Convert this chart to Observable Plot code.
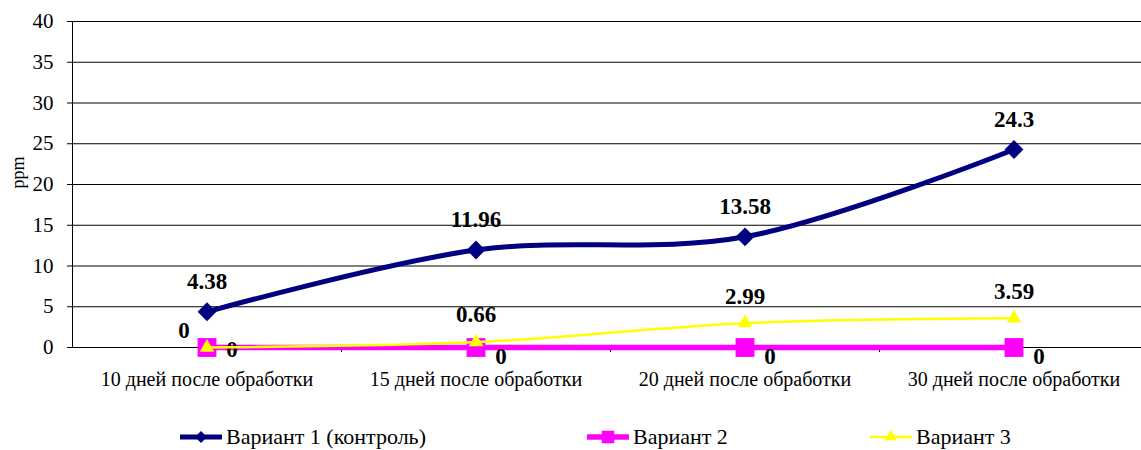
<!DOCTYPE html>
<html>
<head>
<meta charset="utf-8">
<script src="https://cdn.jsdelivr.net/npm/d3@7"></script>
<script src="https://cdn.jsdelivr.net/npm/@observablehq/plot@0.6"></script>
<style>
  body { margin: 0; background: white; font-family: "Liberation Serif", "Times New Roman", serif; }
  #legend { height: 45px; position: relative; }
  .item { position: absolute; top: 20px; display: flex; align-items: center; font-size: 22px; line-height: 24px; color: #000; }
  .item svg { margin-right: 2px; }
</style>
</head>
<body>
<div id="chart"></div>
<div id="legend"></div>
<script>
const categories = ["10 дней после обработки", "15 дней после обработки", "20 дней после обработки", "30 дней после обработки"];
const seriesNames = ["Вариант 1 (контроль)", "Вариант 2", "Вариант 3"];
const variant1 = [4.38, 11.96, 13.58, 24.3];
const variant2 = [0, 0, 0, 0];
const variant3 = [0, 0.66, 2.99, 3.59];
const yTicks = [0, 5, 10, 15, 20, 25, 30, 35, 40];
const separators = [0.5, 1.5, 2.5];

const rows = (vals, s) => vals.map((v, i) => ({i, v, s, cat: categories[i]}));
const d1 = rows(variant1, seriesNames[0]);
const d2 = rows(variant2, seriesNames[1]);
const d3r = rows(variant3, seriesNames[2]);

const font = "'Liberation Serif', 'Times New Roman', serif";

const chart = Plot.plot({
  width: 1141,
  height: 405,
  marginLeft: 72,
  marginRight: 0,
  marginTop: 21,
  marginBottom: 58,
  style: {fontFamily: font, fontSize: "20px", color: "#000", background: "white"},
  x: {domain: [-0.5, 3.5], range: [72, 1148]},
  y: {domain: [0, 40]},
  marks: [
    Plot.gridY(yTicks, {stroke: "#000", strokeOpacity: 1, strokeWidth: 1}),
    Plot.axisY(yTicks, {tickSize: 5, tickPadding: 14, fontSize: 21, label: null, stroke: "#000"}),
    Plot.ruleX([-0.5], {stroke: "#000", strokeWidth: 1}),
    Plot.text(["ppm"], {frameAnchor: "left", textAnchor: "middle", dx: -54, dy: -12, rotate: -90, fontSize: 18, fill: "#000"}),
    Plot.axisX([0, 1, 2, 3], {tickSize: 0, tickPadding: 24, fontSize: 20, tickFormat: i => categories[i], label: null}),
    Plot.axisX(separators, {tickSize: 5, tickFormat: () => "", label: null, stroke: "#000"}),
    Plot.ruleY([0], {stroke: "#000", strokeWidth: 1}),
    // Variant 1
    Plot.line(d1, {x: "i", y: "v", stroke: "#000080", strokeWidth: 5, curve: "catmull-rom"}),
    Plot.dot(d1, {x: "i", y: "v", symbol: "diamond2", r: 8.5, fill: "#000080", stroke: "none"}),
    Plot.text(d1, {x: "i", y: "v", text: d => String(d.v), dy: -30, fontSize: 23, fontWeight: "bold", fill: "#000"}),
    // Variant 2
    Plot.line(d2, {x: "i", y: "v", stroke: "#FF00FF", strokeWidth: 5.5, curve: "catmull-rom"}),
    Plot.dot(d2, {x: "i", y: "v", symbol: "square2", r: 12, fill: "#FF00FF", stroke: "none"}),
    Plot.text(d2.slice(0, 1), {x: "i", y: "v", text: d => String(d.v), dx: 25, dy: 2, fontSize: 23, fontWeight: "bold", fill: "#000"}),
    Plot.text(d2.slice(1), {x: "i", y: "v", text: d => String(d.v), dx: 25, dy: 9, fontSize: 23, fontWeight: "bold", fill: "#000"}),
    // Variant 3
    Plot.line(d3r, {x: "i", y: "v", stroke: "#FFFF00", strokeWidth: 2.5, curve: "catmull-rom"}),
    Plot.dot(d3r, {x: "i", y: "v", symbol: "triangle2", r: 7, fill: "#FFFF00", stroke: "none"}),
    Plot.text(d3r.slice(0, 1), {x: "i", y: "v", text: d => String(d.v), dx: -23, dy: -17, fontSize: 23, fontWeight: "bold", fill: "#000"}),
    Plot.text(d3r.slice(1), {x: "i", y: "v", text: d => String(d.v), dy: -27, fontSize: 23, fontWeight: "bold", fill: "#000"})
  ]
});
document.getElementById("chart").appendChild(chart);

// Legend
const legendSpec = [
  {name: seriesNames[0], color: "#000080", sym: d3.symbolDiamond2, size: 90, w: 5, left: 180},
  {name: seriesNames[1], color: "#FF00FF", sym: d3.symbolSquare2, size: 200, w: 5.5, left: 587},
  {name: seriesNames[2], color: "#FFFF00", sym: d3.symbolTriangle2, size: 110, w: 2.5, left: 870}
];
const legend = document.getElementById("legend");
for (const s of legendSpec) {
  const item = document.createElement("div");
  item.className = "item";
  item.style.left = s.left + "px";
  const sw = d3.create("svg").attr("width", 44).attr("height", 20);
  sw.append("line").attr("x1", 0).attr("x2", 42).attr("y1", 10).attr("y2", 10)
    .attr("stroke", s.color).attr("stroke-width", s.w);
  sw.append("path").attr("d", d3.symbol(s.sym, s.size)()).attr("transform", "translate(21,10)")
    .attr("fill", s.color);
  item.appendChild(sw.node());
  const t = document.createElement("span");
  t.textContent = s.name;
  item.appendChild(t);
  legend.appendChild(item);
}
</script>
</body>
</html>
